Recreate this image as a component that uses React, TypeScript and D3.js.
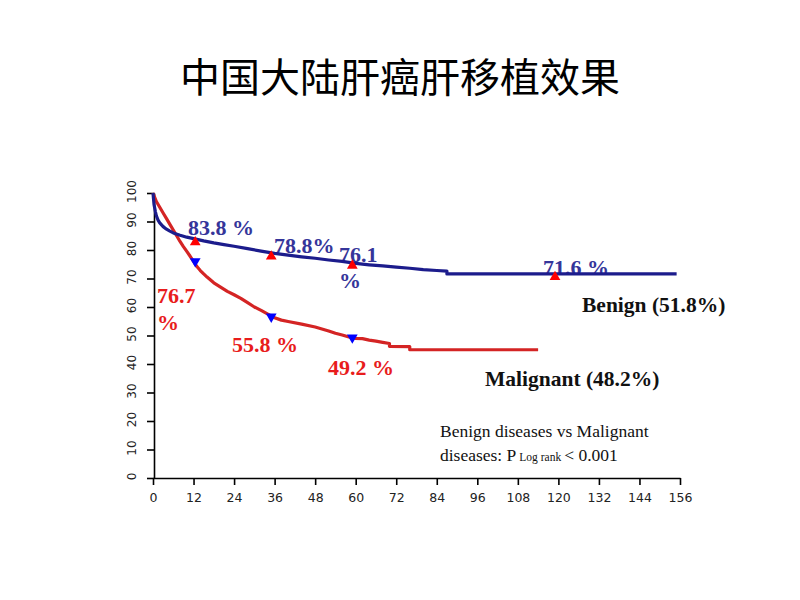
import React, { useEffect, useRef } from "react";
import * as d3 from "d3";

const titleText = "中国大陆肝癌肝移植效果";

const benignTime = [0, 0.3, 0.7, 1, 1.5, 2, 3, 4, 5, 6, 8, 10, 12, 15, 18, 21, 24, 28, 32, 36, 40, 44, 48, 52, 56, 60, 64, 68, 72, 76, 80, 84, 87, 87, 155];
const benignSurv = [100, 96, 93.5, 92, 90.5, 89.5, 88.2, 87.3, 86.6, 86, 85.2, 84.5, 84, 83.2, 82.5, 81.9, 81.3, 80.5, 79.6, 78.8, 78.2, 77.6, 77.1, 76.5, 76, 75.3, 74.8, 74.4, 74, 73.6, 73.1, 72.8, 72.6, 71.6, 71.6];

const malignantTime = [0, 0.5, 1, 2, 3, 4, 5, 6, 7, 8, 9, 10, 11, 12, 13, 14, 15, 16, 18, 20, 22, 24, 26, 28, 30, 32, 34, 36, 38, 40, 44, 48, 50, 52, 54, 56, 58, 60, 62, 64, 66, 68, 70, 70, 76, 76, 114];
const malignantSurv = [100, 98.5, 97, 95, 93, 91, 89, 87, 85, 83, 81.2, 79.5, 77.8, 76, 74.2, 72.8, 71.6, 70.5, 68.5, 67, 65.5, 64.3, 63, 61.5, 60, 58.8, 57.5, 56.2, 55.4, 54.9, 54, 53, 52.3, 51.6, 50.8, 50.2, 49.5, 49, 48.9, 48.4, 48, 47.6, 47.2, 46.2, 46.1, 45, 45];

const benignMarkTime = [12.5, 35, 59, 119];
const benignMarkSurv = [83.8, 78.8, 75.6, 71.6];
const malignantMarkTime = [12.5, 35, 59];
const malignantMarkSurv = [76.0, 56.6, 49.3];

const xTicks = [0, 12, 24, 36, 48, 60, 72, 84, 96, 108, 120, 132, 144, 156];
const yTicks = [0, 10, 20, 30, 40, 50, 60, 70, 80, 90, 100];

const W = 800;
const H = 600;

export default function App() {
  const xAxisRef = useRef<SVGGElement>(null);
  const yAxisRef = useRef<SVGGElement>(null);

  const x = d3.scaleLinear().domain([0, 156]).range([153, 680]);
  const y = d3.scaleLinear().domain([0, 100]).range([478, 193]);

  useEffect(() => {
    if (xAxisRef.current) {
      const g = d3.select(xAxisRef.current);
      g.selectAll("*").remove();
      g.call(d3.axisBottom(x).tickValues(xTicks).tickSize(7).tickSizeOuter(0).tickFormat(d3.format("d")));
      g.select(".domain").attr("stroke", "#000").attr("stroke-width", 1.6);
      g.selectAll(".tick line").attr("stroke", "#000").attr("stroke-width", 1.6);
      g.selectAll(".tick text")
        .attr("font-family", "DejaVu Sans, sans-serif")
        .attr("font-size", 12.5)
        .attr("fill", "#222")
        .attr("y", 19)
        .attr("dy", 0)
        .attr("dominant-baseline", "central");
    }
    if (yAxisRef.current) {
      const g = d3.select(yAxisRef.current);
      g.selectAll("*").remove();
      g.call(d3.axisLeft(y).tickValues(yTicks).tickSize(7).tickSizeOuter(0).tickFormat(d3.format("d")));
      g.select(".domain").attr("stroke", "#000").attr("stroke-width", 1.6);
      g.selectAll(".tick line").attr("stroke", "#000").attr("stroke-width", 1.6);
      g.selectAll(".tick text")
        .attr("font-family", "DejaVu Sans, sans-serif")
        .attr("font-size", 12)
        .attr("fill", "#222")
        .attr("x", 0)
        .attr("dy", 0)
        .attr("text-anchor", "middle")
        .attr("dominant-baseline", "central")
        .attr("transform", "translate(-22,-2) rotate(-90)");
    }
  });

  const mk = (ts: number[], vs: number[]) =>
    d3
      .line<[number, number]>()
      .x((d) => x(d[0]))
      .y((d) => y(d[1]))
      .curve(d3.curveLinear)(ts.map((t, i) => [t, vs[i]] as [number, number])) || "";

  const benignPath = mk(benignTime, benignSurv);
  const malignantPath = mk(malignantTime, malignantSurv);

  const tri = d3.symbol().type(d3.symbolTriangle).size(50)() || "";

  const blueText = "#35359a";
  const redText = "#e81c1c";
  const labelFont = "Liberation Serif, Times New Roman, serif";

  return (
    <svg width={W} height={H} style={{ position: "absolute", left: 0, top: 0, background: "#fff" }}>
      <rect x={0} y={0} width={W} height={H} fill="#fff" />
      <text x={400} y={75} textAnchor="middle" dominantBaseline="central" fontFamily="Noto Sans CJK SC" fontSize={40} fill="#000">
        {titleText}
      </text>

      {/* annotations drawn beneath the curves */}
      <g fontFamily={labelFont} fontWeight="bold" fontSize={22}>
        <text x={188} y={235} fill={blueText}>83.8 %</text>
        <text x={274} y={253} fill={blueText}>78.8%</text>
        <text x={339} y={262} fill={blueText}>76.1</text>
        <text x={339} y={288} fill={blueText}>%</text>
        <text x={543} y={275} fill={blueText}>71.6 %</text>
        <text x={157} y={303} fill={redText}>76.7</text>
        <text x={157} y={330} fill={redText}>%</text>
        <text x={232} y={352} fill={redText}>55.8 %</text>
        <text x={328} y={375} fill={redText}>49.2 %</text>
      </g>

      <g ref={yAxisRef} transform={`translate(${x(0) + 1},0)`} />
      <g ref={xAxisRef} transform={`translate(0,${y(0)})`} />

      <path d={malignantPath} fill="none" stroke="#d42424" strokeWidth={3.2} strokeLinejoin="round" />
      <path d={benignPath} fill="none" stroke="#1c1c8c" strokeWidth={3.2} strokeLinejoin="round" />

      {benignMarkTime.map((t, i) => (
        <path key={"bm" + i} d={tri} fill="#ff0000" transform={`translate(${x(t)},${y(benignMarkSurv[i]) + 3})`} />
      ))}
      {malignantMarkTime.map((t, i) => (
        <path key={"mm" + i} d={tri} fill="#0000ff" transform={`translate(${x(t)},${y(malignantMarkSurv[i])}) rotate(180)`} />
      ))}

      <g fontFamily={labelFont} fontWeight="bold" fontSize={21.5} fill="#111">
        <text x={582} y={312}>Benign (51.8%)</text>
        <text x={485} y={386}>Malignant (48.2%)</text>
      </g>

      <g fontFamily={labelFont} fontSize={17.5} fill="#111">
        <text x={440} y={437}>Benign diseases vs Malignant</text>
        <text x={440} y={461}>
          diseases: P
          <tspan fontSize={11.5} dx={3}>Log rank</tspan>
          <tspan dx={3}>&lt; 0.001</tspan>
        </text>
      </g>
    </svg>
  );
}
